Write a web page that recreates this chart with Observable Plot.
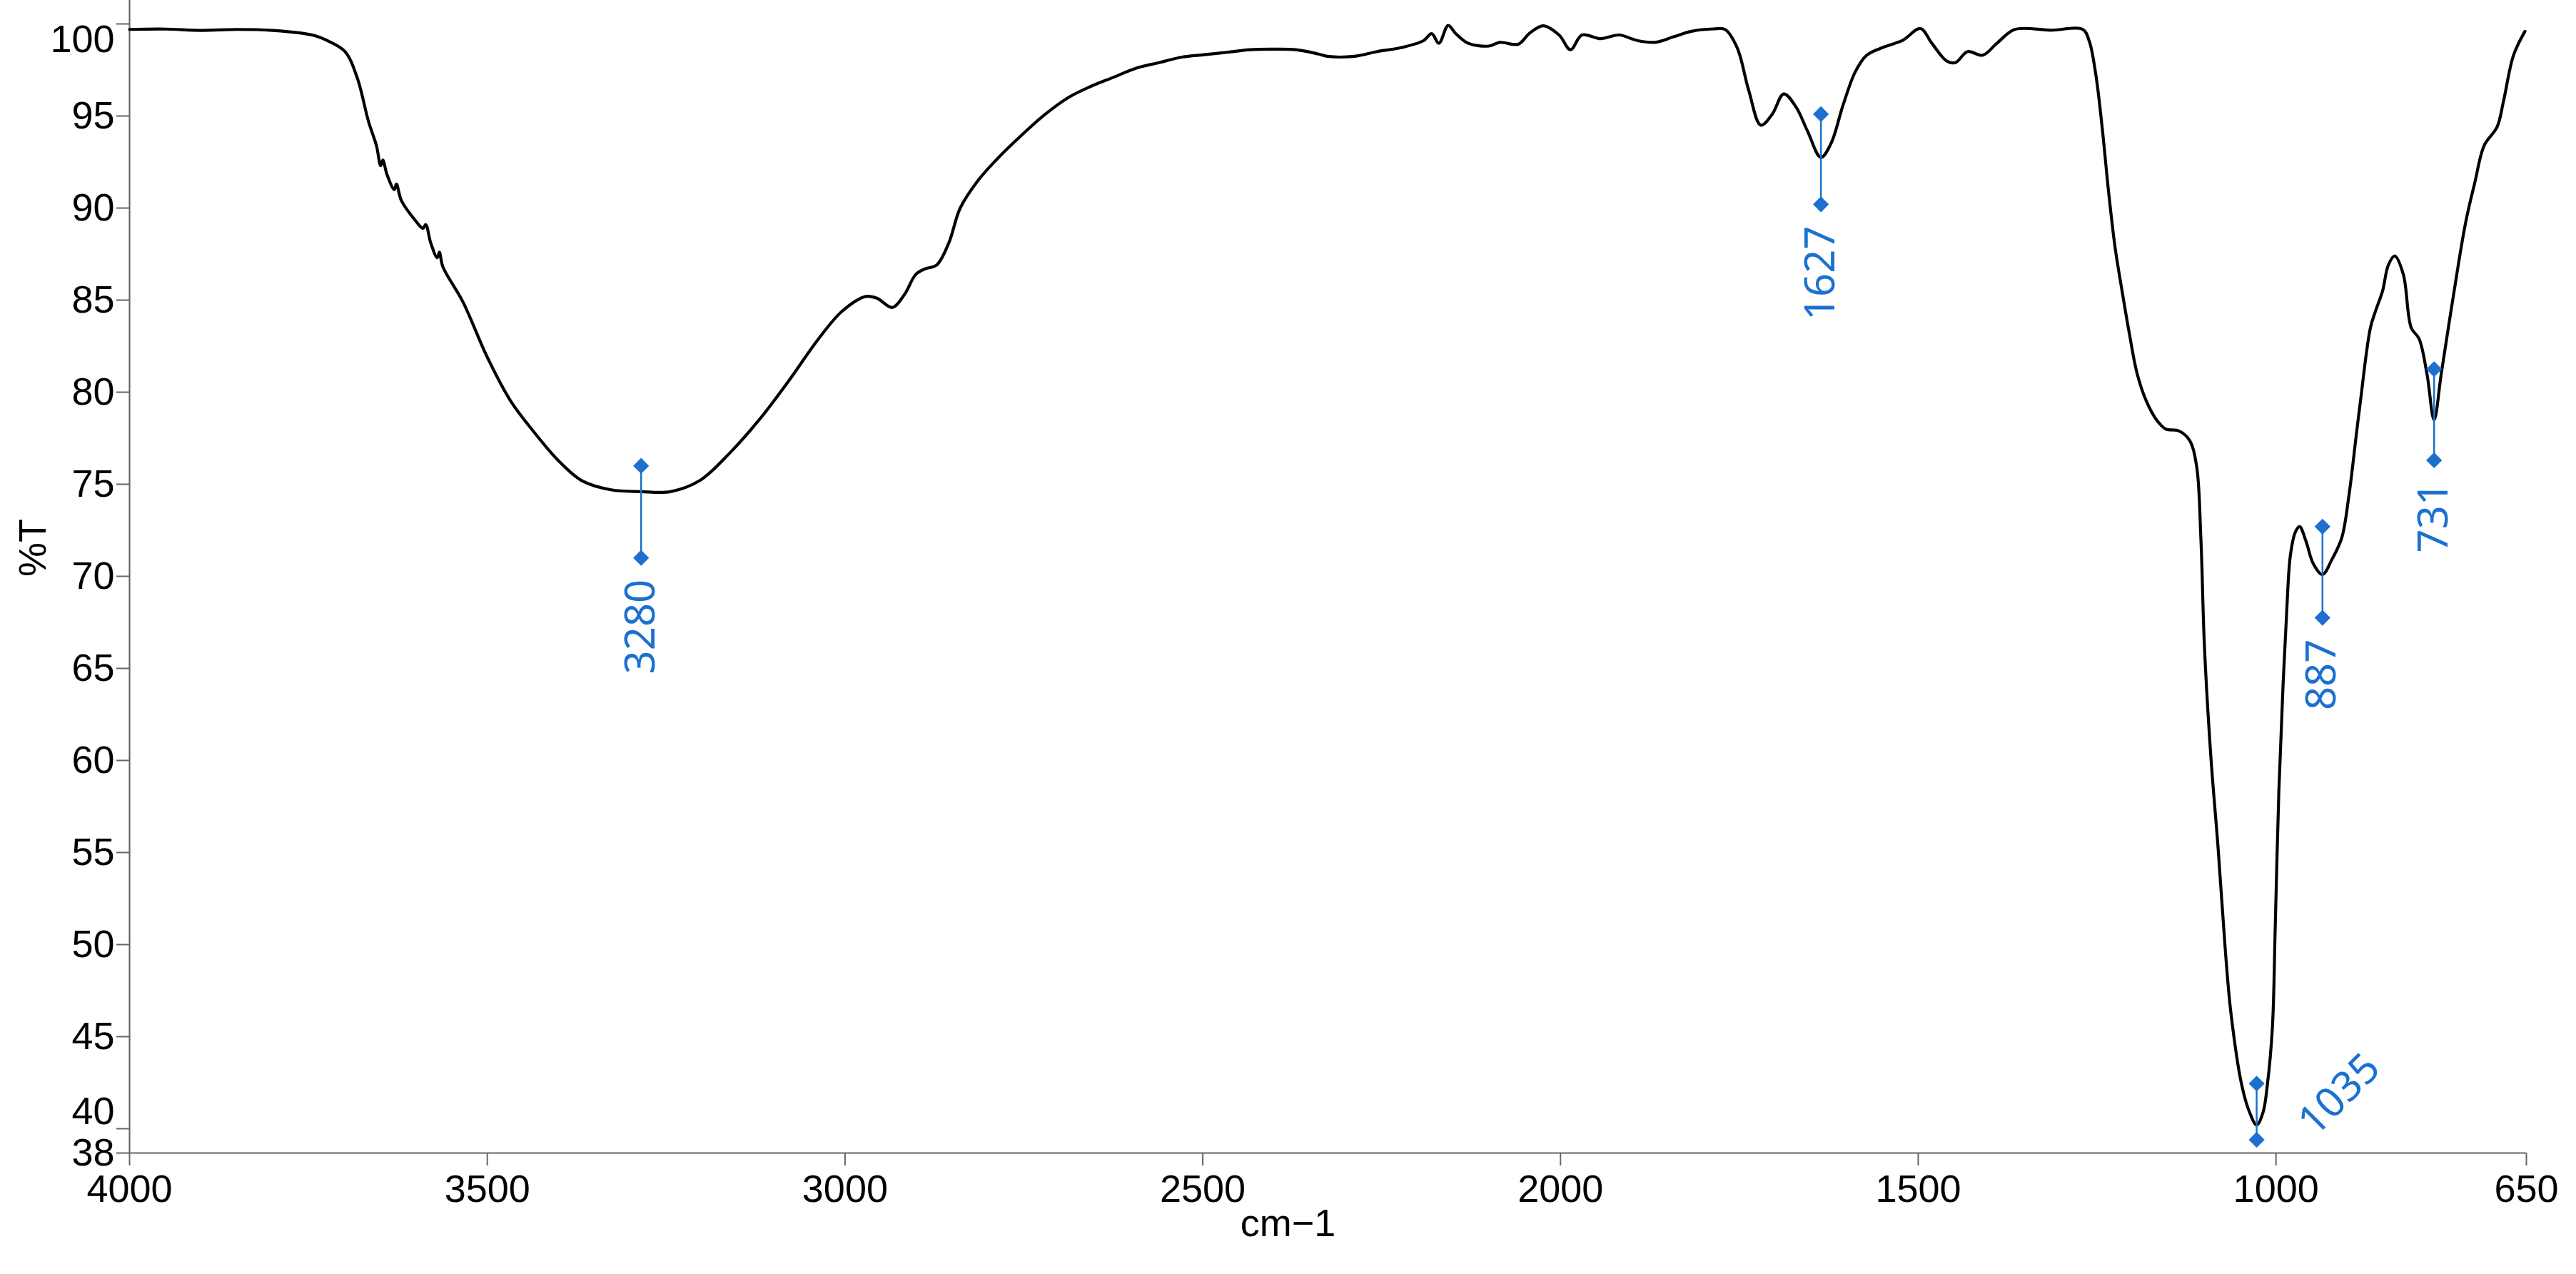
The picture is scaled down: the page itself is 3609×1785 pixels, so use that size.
<!DOCTYPE html>
<html>
<head>
<meta charset="utf-8">
<script src="https://cdn.jsdelivr.net/npm/d3@7"></script>
<script src="https://cdn.jsdelivr.net/npm/@observablehq/plot@0.6"></script>
<style>
  html, body { margin: 0; padding: 0; background: #ffffff; }
  #chart svg { display: block; }
</style>
</head>
<body>
<div id="chart"></div>
<script>
// ---- data ----
const wavenumber = [
  4000, 3950, 3900, 3850, 3800, 3760, 3740, 3724, 3699, 3682, 3666, 3655, 3649, 3646, 3640, 3630, 3627, 3620,
  3600, 3590, 3586, 3579, 3570, 3567, 3562, 3534, 3500, 3467, 3434, 3401, 3368, 3327, 3285, 3244,
  3203, 3161, 3120, 3079, 3037, 3004, 2971, 2955, 2934, 2917, 2901, 2888, 2872, 2855, 2839, 2814,
  2789, 2752, 2720, 2688, 2657, 2625, 2593, 2561, 2529, 2498, 2466, 2434, 2402, 2370, 2339, 2326,
  2288, 2256, 2224, 2192, 2180, 2170, 2157, 2147, 2129, 2100, 2085, 2059, 2043, 2024, 2002, 1986,
  1970, 1944, 1918, 1893, 1868, 1842, 1817, 1786, 1770, 1753, 1737, 1720, 1704, 1688, 1671, 1655,
  1636, 1622, 1605, 1588, 1572, 1547, 1522, 1497, 1481, 1460, 1448, 1431, 1410, 1390, 1365, 1315,
  1270, 1261, 1252, 1243, 1234, 1225, 1216, 1205, 1194, 1181, 1167, 1154, 1136, 1121, 1111, 1105,
  1100, 1091, 1081, 1071, 1063, 1048, 1037, 1027, 1018, 1012, 1005, 1001, 996, 990, 985, 980,
  973, 967, 958, 948, 935, 922, 908, 898, 888, 882, 868, 860, 851, 843, 834, 822, 811, 800,
  789, 779, 769, 753, 735, 722, 709, 691, 682, 668, 652
];
const transmittance = [
  99.7, 99.72, 99.65, 99.7, 99.65, 99.5, 99.35, 99.1, 98.5, 97.1, 94.7, 93.4, 92.3, 92.6, 91.8, 91.0, 91.3, 90.4,
  89.3, 88.9, 89.1, 88.1, 87.3, 87.6, 86.8, 84.9, 81.9, 79.5, 77.8, 76.3, 75.2, 74.7, 74.6, 74.6,
  75.2, 76.7, 78.5, 80.6, 82.9, 84.4, 85.2, 85.1, 84.6, 85.3, 86.4, 86.7, 86.9, 88.1, 90.0, 91.5,
  92.6, 94.0, 95.1, 96.0, 96.6, 97.1, 97.6, 97.9, 98.2, 98.33, 98.46, 98.6, 98.63, 98.6, 98.37, 98.24,
  98.24, 98.5, 98.7, 99.08, 99.47, 98.95, 99.92, 99.5, 98.95, 98.8, 99.0, 98.9, 99.5, 99.9, 99.4, 98.6,
  99.4, 99.2, 99.4, 99.1, 99.0, 99.3, 99.6, 99.73, 99.7, 98.7, 96.4, 94.5, 95.1, 96.2, 95.5, 94.2,
  92.75, 93.5, 95.6, 97.4, 98.3, 98.76, 99.1, 99.75, 98.95, 97.98, 97.9, 98.5, 98.3, 98.95, 99.7, 99.66,
  99.7, 99.07, 97.3, 94.4, 90.9, 87.9, 85.7, 83.2, 81.0, 79.5, 78.5, 78.0, 77.9, 77.4, 76.0, 72.1,
  66.2, 60.2, 55.3, 49.8, 46.3, 42.4, 40.9, 40.2, 40.9, 42.4, 45.5, 51.0, 58.3, 64.2, 68.1, 71.1,
  72.4, 72.7, 71.9, 70.7, 70.1, 70.9, 72.1, 74.4, 77.6, 79.5, 83.5, 84.5, 85.5, 86.9, 87.4, 86.4, 83.5, 82.9,
  81.0, 78.5, 81.0, 85.0, 89.2, 91.4, 93.4, 94.4, 95.8, 98.3, 99.6
];

// peak annotations
const peakLabel  = ["3280", "1627", "1035", "887", "731"];
const peakX      = [3285, 1636, 1027, 935, 779];
const peakTop    = [76.0, 95.1, 42.45, 72.7, 81.25];
const peakBottom = [71.0, 90.2, 39.4, 67.75, 76.3];
const peakAngle  = [-90, -90, -45, -90, -90];

// axes
const xTicks = [4000, 3500, 3000, 2500, 2000, 1500, 1000, 650];
const yMin = 38.68, yMax = 101.28;
const yTicks = [38.68, 40, 45, 50, 55, 60, 65, 70, 75, 80, 85, 90, 95, 100];
const yTickLabels = ["38", "40", "45", "50", "55", "60", "65", "70", "75", "80", "85", "90", "95", "100"];
const xLabel = "cm\u22121";
const yLabel = "%T";

// ---- build ----
const spectrum = wavenumber.map((w, i) => ({w, t: transmittance[i]}));
const peaks = peakLabel.map((label, i) => ({label, x: peakX[i], top: peakTop[i], bottom: peakBottom[i], angle: peakAngle[i]}));
const vPeaks = peaks.filter(p => p.angle === -90);
const dPeaks = peaks.filter(p => p.angle !== -90);
const tickLabelMap = new Map(yTicks.map((v, i) => [v, yTickLabels[i]]));
const shiftedLabels = new Map([[100, 22], [40, -24]]);

const axisColor = "#666666";
const blue = "#1b70d0";
const font = "'Liberation Sans', Arial, sans-serif";
const annFont = "'Noto Sans', 'Open Sans', sans-serif";

const chart = Plot.plot({
  width: 3609,
  height: 1785,
  marginLeft: 181,
  marginRight: 70,
  marginTop: 0,
  marginBottom: 170,
  style: {background: "#ffffff", fontFamily: font, fontSize: "54px", color: "#000"},
  x: {domain: [4000, 650], label: null},
  y: {domain: [yMin, yMax], label: null},
  marks: [
    Plot.ruleX([4000], {stroke: axisColor, strokeWidth: 2.2}),
    Plot.ruleY([yMin], {stroke: axisColor, strokeWidth: 2.2}),
    Plot.axisX(xTicks, {tickSize: 18, tickPadding: 12, fontSize: 54, stroke: axisColor, strokeWidth: 2, fill: "#000", label: null,
      tickFormat: d => String(d)}),
    Plot.axisY(yTicks, {tickSize: 18, tickPadding: 3, fontSize: 54, stroke: axisColor, strokeWidth: 2, fill: "#000", label: null,
      tickFormat: d => shiftedLabels.has(d) ? "" : tickLabelMap.get(d)}),
    ...[...shiftedLabels].map(([v, off]) =>
      Plot.text([v], {y: d => d, text: d => tickLabelMap.get(d), frameAnchor: "left", textAnchor: "end", dx: -21, dy: off, fontSize: 54, fill: "#000"})),
    Plot.line(spectrum, {x: "w", y: "t", stroke: "#000", strokeWidth: 4.2, curve: "catmull-rom"}),
    Plot.ruleX(peaks, {x: "x", y1: "bottom", y2: "top", stroke: blue, strokeWidth: 2.5}),
    Plot.dot(peaks, {x: "x", y: "top", symbol: "diamond2", r: 10, fill: blue, stroke: null}),
    Plot.dot(peaks, {x: "x", y: "bottom", symbol: "diamond2", r: 10, fill: blue, stroke: null}),
    Plot.text(vPeaks, {x: "x", y: "bottom", text: "label", rotate: -90, textAnchor: "end", lineAnchor: "middle", dy: 30, fill: blue, fontSize: 58, fontFamily: annFont}),
    Plot.text(dPeaks, {x: "x", y: "bottom", text: "label", rotate: -45, textAnchor: "middle", lineAnchor: "middle", dx: 116, dy: -63, fill: blue, fontSize: 58, fontFamily: annFont}),
    Plot.text([yLabel], {frameAnchor: "left", dx: -135, rotate: -90, fontSize: 54, fill: "#000"}),
    Plot.text([xLabel], {frameAnchor: "bottom", dx: -56, dy: 116, fontSize: 54, fill: "#000"})
  ]
});
document.getElementById("chart").appendChild(chart);
</script>
</body>
</html>
